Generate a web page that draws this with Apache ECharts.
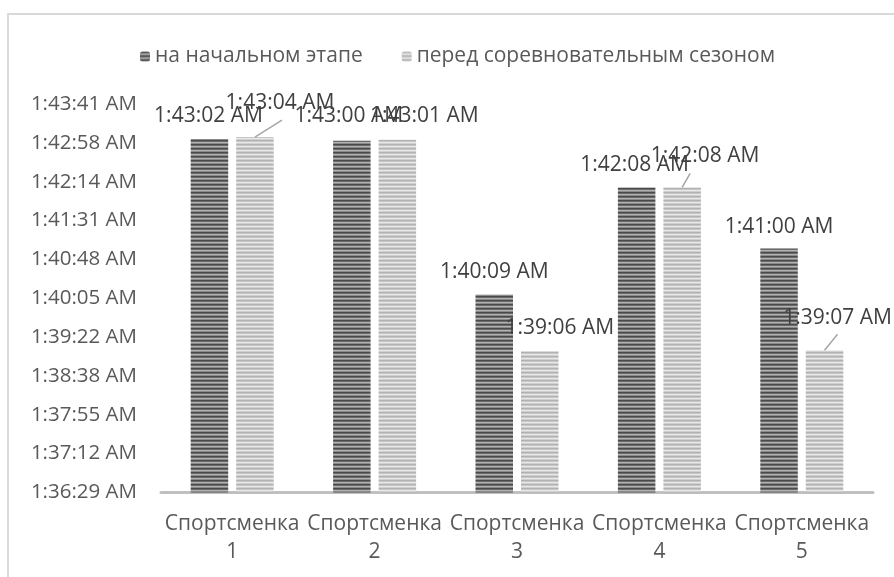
<!DOCTYPE html>
<html>
<head>
<meta charset="utf-8">
<script src="https://cdn.jsdelivr.net/npm/echarts@6.0.0/dist/echarts.min.js"></script>
<style>
  html, body { margin: 0; padding: 0; background: #fff; }
  #main { width: 894px; height: 577px; }
</style>
</head>
<body>
<div id="main"></div>
<script>
  // data
  const athletes = ['Спортсменка\n1', 'Спортсменка\n2', 'Спортсменка\n3', 'Спортсменка\n4', 'Спортсменка\n5'];
  const seriesNames = ['на начальном этапе', 'перед соревновательным сезоном'];
  const startTimes = ['1:43:02', '1:43:00', '1:40:09', '1:42:08', '1:41:00'];
  const preSeasonTimes = ['1:43:04', '1:43:01', '1:39:06', '1:42:08', '1:39:07'];
  // axis: 0.067 .. 0.072 day, step 0.0005 day (in seconds)
  const axisMin = 5788.8;
  const axisMax = 6220.8;
  const axisStep = 43.2;

  const toSec = (t) => {
    const p = t.split(':').map(Number);
    return p[0] * 3600 + p[1] * 60 + p[2];
  };
  const fmt = (v) => {
    const total = Math.round(v);
    const h = Math.floor(total / 3600);
    const m = Math.floor((total % 3600) / 60);
    const s = total % 60;
    return h + ':' + String(m).padStart(2, '0') + ':' + String(s).padStart(2, '0') + ' AM';
  };

  // striped fill like the Excel pattern
  const stripes = (rows) => {
    const c = document.createElement('canvas');
    c.width = 1;
    c.height = rows.length;
    const ctx = c.getContext('2d');
    rows.forEach((col, i) => {
      ctx.fillStyle = col;
      ctx.fillRect(0, i, 1, 1);
    });
    return { image: c, repeat: 'repeat' };
  };
  const darkFill = stripes(['#4a4a4a', '#6a6a6a', '#b2b2b2', '#8a8a8a']);
  const lightFill = stripes(['#b2b2b2', '#c6c6c6', '#e8e8e8', '#d0d0d0']);

  const barW = 37.5;
  const barGapPx = 8;

  // manual label offsets (like the hand-moved labels in the original)
  const labelShift = [
    [[-1, -7], [-3, -9], [0, -7], [-2, -7], [0, -6]],
    [[25, -19], [27, -8], [20, -8], [23, -16], [13, -17]]
  ];
  // leader lines of the moved light labels: index -> end offset from bar top
  const leaderEnd = { 0: [27, -17], 3: [8, -14], 4: [13, -16] };

  const font = '"Open Sans", "Noto Sans", sans-serif';
  const chart = echarts.init(document.getElementById('main'));
  const preSec = preSeasonTimes.map(toSec);

  const option = {
    backgroundColor: '#fff',
    animation: false,
    graphic: [
      {
        type: 'polyline',
        shape: { points: [[8, 600], [8, 14], [900, 14]] },
        style: { stroke: '#d9d9d9', lineWidth: 2, fill: null }
      }
    ],
    legend: {
      left: 135,
      top: 41,
      itemWidth: 10,
      itemHeight: 10,
      itemGap: 39,
      textStyle: { fontFamily: font, fontSize: 21, color: '#595959' },
      data: seriesNames
    },
    grid: {
      left: 161,
      right: 21,
      top: 104,
      bottom: 84.5
    },
    xAxis: {
      type: 'category',
      data: athletes,
      axisLine: { lineStyle: { color: '#c0c0c0', width: 3 } },
      axisTick: { show: false },
      axisLabel: {
        interval: 0,
        margin: 18,
        fontFamily: font,
        fontSize: 21,
        lineHeight: 28,
        color: '#595959'
      }
    },
    yAxis: {
      type: 'value',
      min: axisMin,
      max: axisMax,
      interval: axisStep,
      splitLine: { show: false },
      axisLine: { show: false },
      axisTick: { show: false },
      axisLabel: {
        margin: 24,
        fontFamily: font,
        fontSize: 20.5,
        color: '#595959',
        formatter: fmt
      }
    },
    series: [startTimes, preSeasonTimes].map((times, si) => ({
      name: seriesNames[si],
      type: 'bar',
      barWidth: barW,
      barGap: (barGapPx / barW * 100) + '%',
      itemStyle: { color: si === 0 ? darkFill : lightFill },
      label: {
        show: true,
        position: 'top',
        distance: 5,
        fontFamily: font,
        fontSize: 21,
        color: '#404040',
        formatter: (p) => fmt(p.value)
      },
      labelLayout: (p) => {
        const d = labelShift[si][p.dataIndex];
        return { dx: d[0], dy: d[1] };
      },
      data: times.map(toSec)
    })).concat([{
      type: 'custom',
      name: 'leaders',
      silent: true,
      z: 5,
      data: Object.keys(leaderEnd).map((k) => [Number(k), preSec[Number(k)]]),
      renderItem: (params, api) => {
        const idx = api.value(0);
        const p = api.coord([idx, api.value(1)]);
        const x = p[0] + (barW + barGapPx) / 2;
        const e = leaderEnd[idx];
        return {
          type: 'line',
          shape: { x1: x, y1: p[1], x2: x + e[0], y2: p[1] + e[1] },
          style: { stroke: '#a6a6a6', lineWidth: 1.5 }
        };
      }
    }])
  };
  chart.setOption(option);
</script>
</body>
</html>
